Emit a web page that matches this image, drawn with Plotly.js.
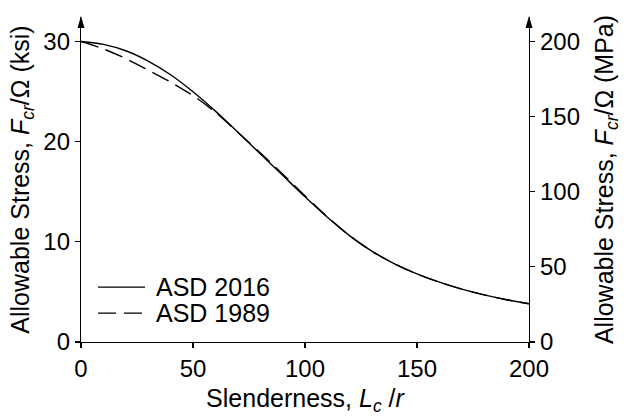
<!DOCTYPE html>
<html>
<head>
<meta charset="utf-8">
<script src="https://cdn.plot.ly/plotly-3.0.1.min.js"></script>
<style>html,body{margin:0;padding:0;background:#fff;}#chart{width:626px;height:416px;}</style>
</head>
<body>
<div id="chart"></div>
<script>
// Data
const slenderness = [0, 10, 20, 30, 40, 50, 60, 70, 80, 90, 100, 110, 120, 130, 140, 150, 160, 170, 180, 190, 200];
const asd2016 = [30.0, 29.72, 29.08, 28.05, 26.68, 24.98, 23.05, 20.95, 18.8, 16.65, 14.5, 12.45, 10.6, 9.05, 7.8, 6.8, 5.97, 5.28, 4.7, 4.22, 3.82];
const asd1989 = [30.0, 29.26, 28.3, 27.15, 25.95, 24.6, 22.95, 20.95, 18.9, 16.78, 14.6, 12.5, 10.6, 9.05, 7.8, 6.8, 5.97, 5.28, 4.7, 4.22, 3.82];
const seriesNames = ['ASD 2016', 'ASD 1989'];
const xTicks = [0, 50, 100, 150, 200];
const ksiTicks = [0, 10, 20, 30];
const mpaTicks = [0, 50, 100, 150, 200];

const FONT = 'Liberation Sans, Arial, Helvetica, sans-serif';
const yTop = 32.45;

const traces = [
  {x: slenderness, y: asd1989, name: seriesNames[1], mode: 'lines', type: 'scatter',
   line: {color: '#000', width: 1.4, dash: '18px,8px', shape: 'spline', smoothing: 0.8}, showlegend: false, hoverinfo: 'skip'},
  {x: slenderness, y: asd2016, name: seriesNames[0], mode: 'lines', type: 'scatter',
   line: {color: '#000', width: 1.4, shape: 'spline', smoothing: 0.8}, showlegend: false, hoverinfo: 'skip'},
  {x: [], y: [], yaxis: 'y2', type: 'scatter', mode: 'lines', showlegend: false, hoverinfo: 'skip'}
];

const axisCommon = {
  showgrid: false, zeroline: false, showline: true, linecolor: '#000', linewidth: 1.2,
  ticks: 'outside', ticklen: 5, tickwidth: 1.2, tickcolor: '#000',
  tickfont: {family: FONT, size: 24, color: '#000'}
};

const titleFont = {family: FONT, size: 25, color: '#000'};

const layout = {
  width: 626, height: 416,
  margin: {l: 81, r: 97, t: 17, b: 74, pad: 0},
  paper_bgcolor: '#fff', plot_bgcolor: '#fff',
  font: {family: FONT, size: 24, color: '#000'},
  showlegend: false,
  xaxis: Object.assign({}, axisCommon, {
    range: [0, 200], tickvals: xTicks, ticktext: xTicks.map(String),
    title: {text: 'Slenderness, <i>L<sub>c</sub></i> /<i>r</i>', font: titleFont, standoff: 8}
  }),
  yaxis: Object.assign({}, axisCommon, {
    range: [0, yTop], tickvals: ksiTicks, ticktext: ksiTicks.map(String),
    title: {text: 'Allowable Stress, <i>F<sub>cr</sub></i>/Ω (ksi)', font: titleFont, standoff: 6}
  }),
  yaxis2: Object.assign({}, axisCommon, {
    overlaying: 'y', side: 'right', anchor: 'x',
    range: [0, yTop * 200 / 30], tickvals: mpaTicks, ticktext: mpaTicks.map(String),
    title: {text: 'Allowable Stress, <i>F<sub>cr</sub></i>/Ω (MPa)', font: titleFont, standoff: 16}
  }),
  shapes: [
    // legend samples
    {type: 'line', xref: 'paper', yref: 'paper', x0: 0.038, x1: 0.143, y0: 0.169, y1: 0.169, line: {color: '#000', width: 1.4}},
    {type: 'line', xref: 'paper', yref: 'paper', x0: 0.038, x1: 0.143, y0: 0.089, y1: 0.089, line: {color: '#000', width: 1.4, dash: '18px,8px'}},
    // axis arrowheads
    {type: 'path', xref: 'paper', yref: 'paper', xsizemode: 'pixel', ysizemode: 'pixel', xanchor: 0, yanchor: 1,
     path: 'M -3.5,-11 L 3.5,-11 L 0,1 Z', fillcolor: '#000', line: {width: 0}},
    {type: 'path', xref: 'paper', yref: 'paper', xsizemode: 'pixel', ysizemode: 'pixel', xanchor: 1, yanchor: 1,
     path: 'M -3.5,-11 L 3.5,-11 L 0,1 Z', fillcolor: '#000', line: {width: 0}}
  ],
  annotations: [
    {xref: 'paper', yref: 'paper', x: 0.163, y: 0.169, xanchor: 'left', yanchor: 'middle', text: seriesNames[0], showarrow: false, font: {family: FONT, size: 25, color: '#000'}},
    {xref: 'paper', yref: 'paper', x: 0.163, y: 0.089, xanchor: 'left', yanchor: 'middle', text: seriesNames[1], showarrow: false, font: {family: FONT, size: 25, color: '#000'}}
  ]
};

Plotly.newPlot('chart', traces, layout, {staticPlot: true, displayModeBar: false});
</script>
</body>
</html>
